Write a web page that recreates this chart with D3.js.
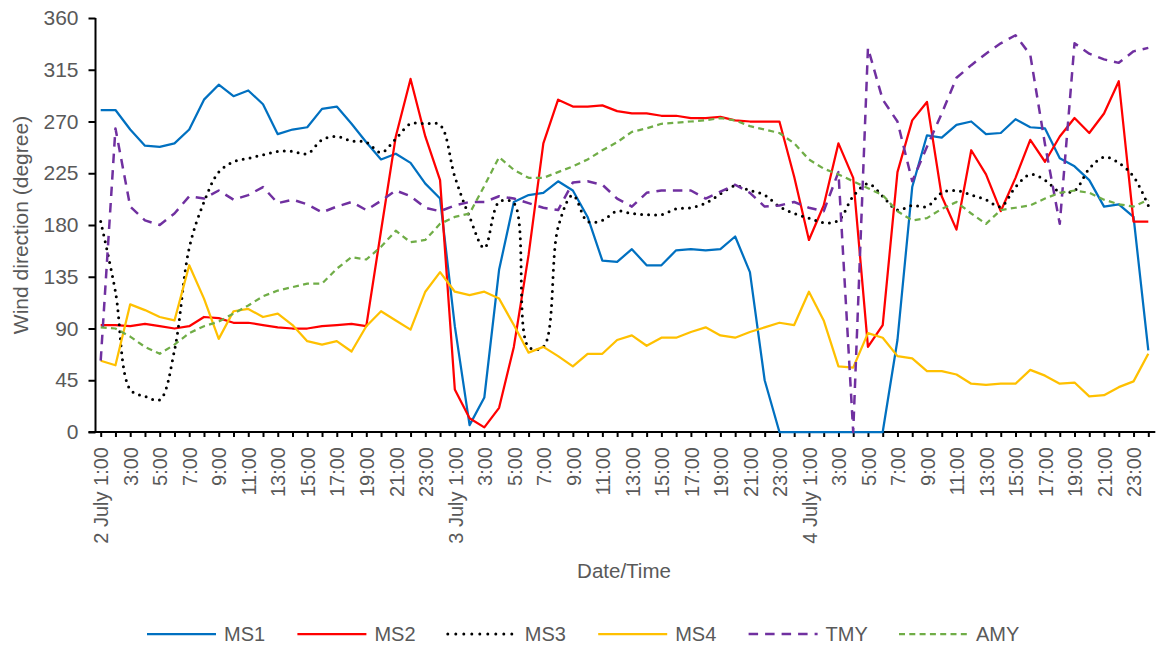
<!DOCTYPE html>
<html>
<head>
<meta charset="utf-8">
<script src="https://cdn.jsdelivr.net/npm/d3@7"></script>
<style>
  body { margin: 0; background: #ffffff; }
  text { font-family: "Liberation Sans", Arial, sans-serif; fill: #595959; }
</style>
</head>
<body>
<svg id="chart" width="1156" height="646"></svg>
<script>
// ---- data -------------------------------------------------------------
const days = ["2 July", "3 July", "4 July"];
const hourLabels = ["1:00","2:00","3:00","4:00","5:00","6:00","7:00","8:00","9:00","10:00","11:00","12:00",
                    "13:00","14:00","15:00","16:00","17:00","18:00","19:00","20:00","21:00","22:00","23:00","24:00"];
const yTicks = [0, 45, 90, 135, 180, 225, 270, 315, 360];

const ms1 = [280,280,263,249,248,251,263,289,302,292,297,285,259,263,265,281,283,268,252,237,242,234,216,203,
             92,6,30,141,200,206,208,218,210,187,149,148,159,145,145,158,159,158,159,170,139,45,0,0,
             0,0,0,0,0,0,80,213,258,256,267,270,259,260,272,265,264,238,231,219,196,198,187,71];
const ms2 = [93,93,92,94,92,90,92,100,99,95,95,93,91,90,90,92,93,94,92,175,257,307,257,219,
             37,12,4,21,74,154,251,289,283,283,284,279,277,277,275,275,273,273,274,271,270,270,270,222,
             167,197,251,221,74,93,226,271,287,205,176,245,224,192,221,254,235,257,273,260,277,305,183,183];
const ms3 = [183,122,37,31,28,71,160,200,226,235,238,241,244,244,242,254,257,253,252,243,255,268,268,267,
             222,187,160,200,199,74,74,178,206,183,184,192,190,189,189,194,195,199,207,214,210,206,196,190,
             186,182,184,205,216,205,193,197,196,208,210,206,202,196,213,224,219,209,210,229,239,234,222,197];
const ms4 = [62,58,111,106,100,97,145,116,81,105,107,100,103,93,79,76,79,70,92,105,97,89,122,139,
             122,119,122,116,93,69,74,66,57,68,68,80,84,75,82,82,87,91,84,82,87,91,95,93,
             122,97,57,56,86,82,66,64,53,53,50,42,41,42,42,54,49,42,43,31,32,39,44,68];
const tmy = [62,264,196,184,180,190,205,203,210,202,206,213,199,202,198,191,196,200,193,201,210,205,195,192,
             197,200,200,205,203,199,195,193,217,218,215,203,196,208,210,210,210,203,209,215,208,196,197,200,
             195,192,226,0,334,289,270,218,248,277,308,319,329,338,345,328,250,181,338,329,324,321,331,334];
const amy = [91,90,83,74,68,76,86,92,96,103,110,118,123,126,129,129,142,152,150,161,175,165,167,181,
             187,190,214,239,228,221,221,226,231,237,245,252,261,264,268,269,270,271,273,271,266,263,260,251,
             237,229,224,218,212,206,192,184,186,194,200,190,181,193,195,197,203,208,210,208,202,198,196,202];

// one category per hour, labelled "<day> <hour>"
const categories = days.flatMap(d => hourLabels.map(h => d + " " + h));

const series = [
  { name: "MS1", values: ms1, color: "#0070C0", dash: null,    width: 2.25, cap: "butt",  smooth: false },
  { name: "MS2", values: ms2, color: "#FF0000", dash: null,    width: 2.25, cap: "butt",  smooth: false },
  { name: "MS3", values: ms3, color: "#000000", dash: "0 7",   width: 3,    cap: "round", smooth: true  },
  { name: "MS4", values: ms4, color: "#FFC000", dash: null,    width: 2.25, cap: "butt",  smooth: false },
  { name: "TMY", values: tmy, color: "#7030A0", dash: "9.5 7", width: 2.5,  cap: "butt",  smooth: false },
  { name: "AMY", values: amy, color: "#70AD47", dash: "6 4.3", width: 2.25, cap: "butt",  smooth: false }
];

// ---- layout -----------------------------------------------------------
const svg = d3.select("#chart");
const axisX0 = 95.5;              // position of the vertical axis
const x = d3.scalePoint().domain(categories).range([100.7, 1148.3]);
const y = d3.scaleLinear().domain([0, 360]).range([432, 18]);

// ---- axes -------------------------------------------------------------
const yAxis = svg.append("g")
  .attr("transform", `translate(${axisX0},0)`)
  .call(d3.axisLeft(y).tickValues(yTicks).tickSize(7).tickPadding(10));
yAxis.select(".domain").remove();
yAxis.selectAll(".tick line").attr("stroke", "#000").attr("stroke-width", 2);
yAxis.selectAll(".tick text")
  .style("font-size", "21px").attr("fill", "#595959")
  .attr("font-family", null);
yAxis.append("line")
  .attr("x1", 0).attr("x2", 0)
  .attr("y1", y(360)).attr("y2", y(0))
  .attr("stroke", "#000").attr("stroke-width", 2);

const xAxis = svg.append("g")
  .attr("transform", `translate(0,${y(0)})`)
  .call(d3.axisBottom(x).tickSize(5)
    .tickFormat((c, i) => {
      const hi = i % 24;
      if (hi % 2 !== 0) return "";
      return hi === 0 ? c : hourLabels[hi];
    }));
xAxis.select(".domain").remove();
xAxis.selectAll(".tick line").attr("stroke", "#000").attr("stroke-width", 2);
xAxis.selectAll(".tick text")
  .style("font-size", "20px").attr("fill", "#595959")
  .attr("font-family", null)
  .attr("transform", "rotate(-90)")
  .attr("text-anchor", "end")
  .attr("x", -15).attr("y", 0).attr("dy", "0.36em");
xAxis.append("line")
  .attr("x1", axisX0 - 7).attr("x2", x(categories[categories.length - 1]) + 7)
  .attr("y1", 0).attr("y2", 0)
  .attr("stroke", "#000").attr("stroke-width", 2.2);

// axis titles
svg.append("text")
  .attr("transform", `translate(21,${(y(0) + y(360)) / 2}) rotate(-90)`)
  .attr("text-anchor", "middle").attr("dy", "0.35em")
  .style("font-size", "21px")
  .text("Wind direction (degree)");
svg.append("text")
  .attr("x", 624).attr("y", 571)
  .attr("text-anchor", "middle").attr("dy", "0.35em")
  .style("font-size", "20.5px")
  .text("Date/Time");

// ---- series lines -----------------------------------------------------
const plot = svg.append("g");
series.forEach(s => {
  const line = d3.line()
    .x((d, i) => x(categories[i]))
    .y(d => y(d))
    .curve(s.smooth ? d3.curveCatmullRom.alpha(0.5) : d3.curveLinear);
  plot.append("path")
    .datum(s.values)
    .attr("fill", "none")
    .attr("stroke", s.color)
    .attr("stroke-width", s.width)
    .attr("stroke-linejoin", "round")
    .attr("stroke-linecap", s.cap)
    .attr("stroke-dasharray", s.dash)
    .attr("d", line);
});

// ---- legend -----------------------------------------------------------
const legend = svg.append("g").attr("transform", "translate(147,634)");
const item = legend.selectAll("g").data(series).join("g")
  .attr("transform", (d, i) => `translate(${i * 150.4},0)`);
item.append("line")
  .attr("x1", 0).attr("x2", 69).attr("y1", 0).attr("y2", 0)
  .attr("stroke", d => d.color)
  .attr("stroke-width", d => d.width)
  .attr("stroke-linecap", d => d.cap)
  .attr("stroke-dasharray", d => d.dash === "0 7" ? "0 8" : d.dash);
item.append("text")
  .attr("x", 77).attr("y", 0).attr("dy", "0.35em")
  .style("font-size", "20px")
  .text(d => d.name);
</script>
</body>
</html>
